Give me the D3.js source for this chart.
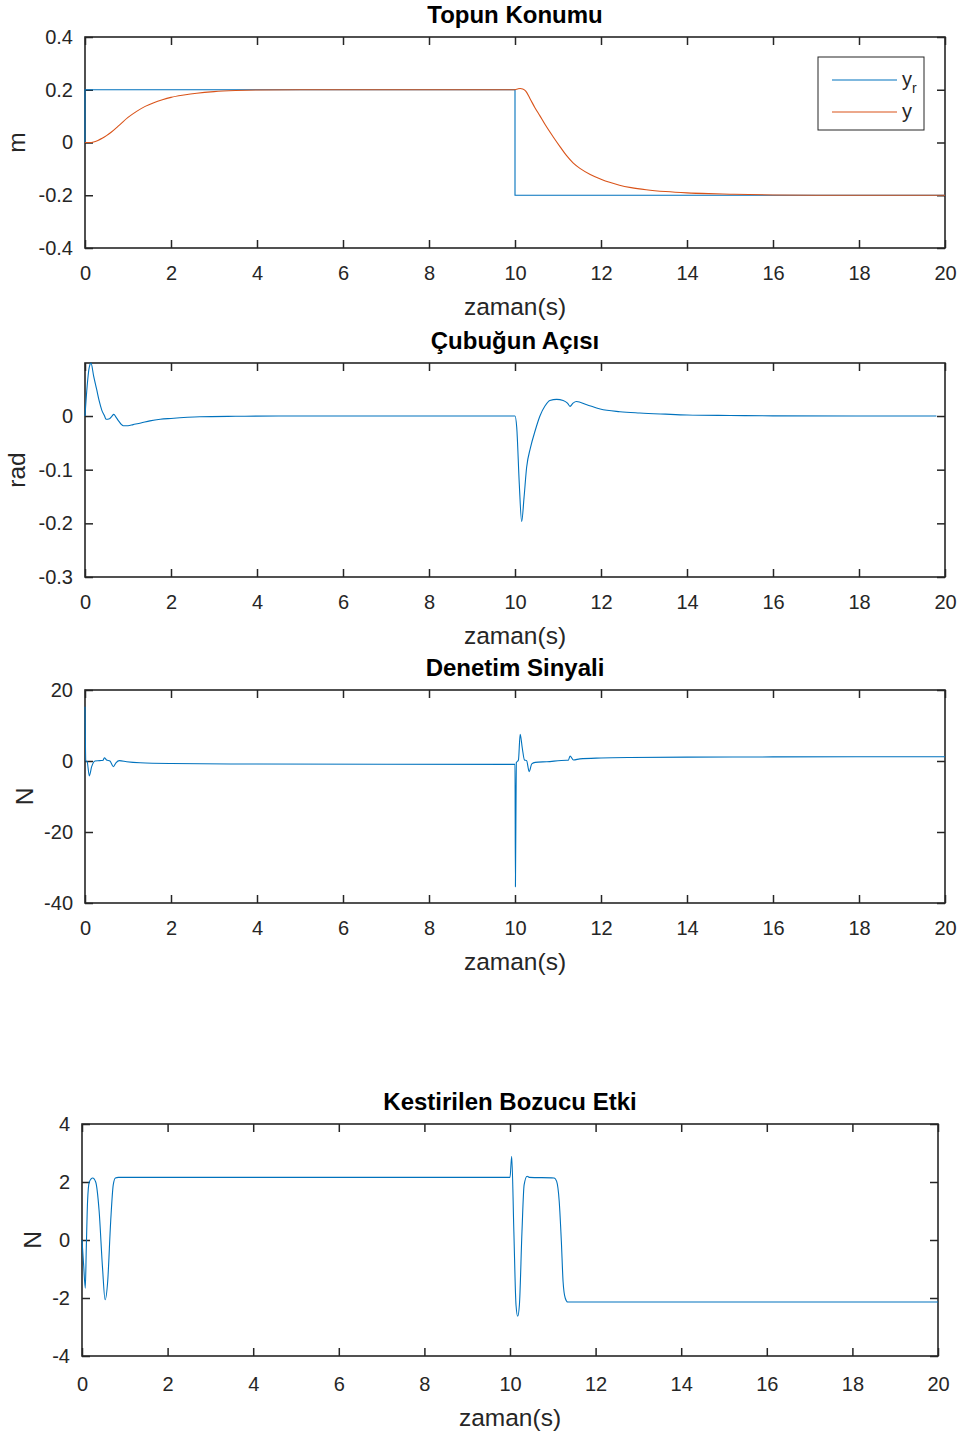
<!DOCTYPE html>
<html>
<head>
<meta charset="utf-8">
<script src="https://cdn.jsdelivr.net/npm/d3@7"></script>
<style>
  body { margin: 0; background: #fff; }
  text { font-family: "Liberation Sans", Arial, sans-serif; fill: #262626; }
  .tick-label { font-size: 20px; }
  .axis-label { font-size: 24.5px; }
  .title { font-size: 24px; font-weight: bold; fill: #000; }
</style>
</head>
<body>
<svg id="chart" width="961" height="1439"></svg>
<script>
// time axis ticks shared by all panels
const xTicks = [0, 2, 4, 6, 8, 10, 12, 14, 16, 18, 20]

// Topun Konumu: reference and ball position
const refT = [0, 0.0001, 10, 10.0001, 20]
const refV = [0, 0.2, 0.2, -0.2, -0.2]
const posT = [0, 0.1, 0.2, 0.3, 0.4, 0.5, 0.6, 0.8, 1.0, 1.2, 1.4, 1.6, 1.8, 2.0, 2.3, 2.6, 3.0, 3.5, 4.0, 5.0, 7.0, 10.0,
  10.06, 10.12, 10.18, 10.25, 10.35, 10.46, 10.58, 10.7, 10.89, 11.05, 11.2, 11.35, 11.51, 11.75, 12.0, 12.2, 12.43, 12.7,
  13.05, 13.5, 14.0, 14.5, 15.0, 16.0, 17.0, 20.0]
const posV = [0, 0, 0.002, 0.008, 0.016, 0.026, 0.038, 0.066, 0.095, 0.118, 0.137, 0.151, 0.162, 0.171, 0.180, 0.187, 0.193, 0.197, 0.199, 0.2, 0.2, 0.2,
  0.203, 0.205, 0.203, 0.195, 0.166, 0.133, 0.101, 0.068, 0.021, -0.0165, -0.050, -0.077, -0.098, -0.121, -0.139, -0.151, -0.162, -0.171,
  -0.179, -0.186, -0.191, -0.194, -0.196, -0.199, -0.2, -0.2]

// Çubuğun Açısı: beam angle
const angT = [0, 0.05, 0.1, 0.14, 0.2, 0.27, 0.33, 0.39, 0.45, 0.49, 0.57, 0.62, 0.67, 0.72, 0.78, 0.89, 1.0, 1.12, 1.3, 1.51, 1.75, 2.0, 2.67, 3.5, 4.5, 10.0,
  10.04, 10.1, 10.155, 10.21, 10.27, 10.36, 10.47, 10.58, 10.7, 10.81, 10.97, 11.12, 11.22, 11.28, 11.35, 11.43, 11.67, 11.98, 12.44, 12.9, 13.5, 14.0, 15.0, 16.0, 19.8]
const angV = [0, 0.056, 0.091, 0.0985, 0.075, 0.05, 0.028, 0.011, 0.001, -0.006, -0.005, -0.001, 0.003, -0.002, -0.009, -0.018, -0.018, -0.016, -0.013, -0.009, -0.006, -0.0045, -0.0015, -0.0005, 0, 0,
  -0.021, -0.127, -0.197, -0.152, -0.096, -0.059, -0.027, 0.0, 0.019, 0.029, 0.031, 0.029, 0.024, 0.018, 0.024, 0.027, 0.021, 0.013, 0.008, 0.0056, 0.0035, 0.002, 0.001, 0.0003, 0]

// Denetim Sinyali: control signal
const ctlT = [0, 0.02, 0.05, 0.1, 0.155, 0.23, 0.35, 0.42, 0.45, 0.5, 0.58, 0.66, 0.72, 0.8, 0.97, 1.28, 2.0, 4.0, 10.0,
  10.01, 10.03, 10.08, 10.12, 10.17, 10.22, 10.27, 10.33, 10.39, 10.47, 10.74, 11.2, 11.24, 11.28, 11.36, 11.51, 12.0, 12.67, 14.0, 16.0, 20.0]
const ctlV = [15.3, 0, -0.2, -4.2, -1.6, 0, 0.1, 0.2, 0.9, 0.3, 0, -1.6, -0.5, 0.1, -0.2, -0.5, -0.7, -0.85, -0.94,
  -35.4, -0.5, 0.3, 7.5, 3.6, 0.3, 0.1, -3.0, -0.8, -0.4, -0.2, 0.2, 0.2, 1.4, 0.3, 0.6, 0.85, 1.0, 1.1, 1.15, 1.2]

// Kestirilen Bozucu Etki: estimated disturbance
const disT = [0, 0.04, 0.077, 0.1, 0.13, 0.17, 0.25, 0.32, 0.4, 0.48, 0.54, 0.6, 0.67, 0.73, 0.78, 0.85, 2.0, 10.0,
  10.04, 10.09, 10.14, 10.18, 10.22, 10.28, 10.33, 10.4, 10.45, 11.03, 11.09, 11.15, 11.2, 11.24, 11.29, 11.35, 11.45, 20.0]
const disV = [0, -0.9, -1.66, -0.3, 1.33, 2.0, 2.14, 2.0, 1.0, -0.97, -2.06, -1.43, 0.64, 1.9, 2.14, 2.16, 2.16, 2.16,
  2.89, 0.3, -2.23, -2.63, -2.23, 0.3, 1.9, 2.2, 2.16, 2.14, 2.02, 1.33, -0.05, -1.43, -2.0, -2.14, -2.14, -2.14]

const BLUE = "#0072BD"
const ORANGE = "#D95319"
const AXIS = "#262626"
const TICK_LEN = 8

const zip = (ts, vs) => ts.map((t, i) => [t, vs[i]])

const panels = [
  { title: "Topun Konumu", ylabel: "m", x0: 85, x1: 945, y0: 37, y1: 248, ylabX: 17, below: 0,
    yDomain: [-0.4, 0.4], yTicks: [-0.4, -0.2, 0, 0.2, 0.4],
    series: [
      { data: zip(refT, refV), color: BLUE, curve: d3.curveLinear },
      { data: zip(posT, posV), color: ORANGE, curve: d3.curveMonotoneX }
    ], legend: true },
  { title: "Çubuğun Açısı", ylabel: "rad", x0: 85, x1: 945, y0: 363, y1: 577, ylabX: 17, below: 0,
    yDomain: [-0.3, 0.0988], yTicks: [-0.3, -0.2, -0.1, 0],
    series: [{ data: zip(angT, angV), color: BLUE, curve: d3.curveMonotoneX }] },
  { title: "Denetim Sinyali", ylabel: "N", x0: 85, x1: 945, y0: 690, y1: 903, ylabX: 25, below: 0,
    yDomain: [-40, 20], yTicks: [-40, -20, 0, 20],
    series: [{ data: zip(ctlT, ctlV), color: BLUE, curve: d3.curveMonotoneX }] },
  { title: "Kestirilen Bozucu Etki", ylabel: "N", x0: 82, x1: 938, y0: 1124, y1: 1356, ylabX: 33, below: 3,
    yDomain: [-4, 4], yTicks: [-4, -2, 0, 2, 4],
    series: [{ data: zip(disT, disV), color: BLUE, curve: d3.curveMonotoneX }] }
]

const svg = d3.select("#chart")
svg.append("rect").attr("width", 961).attr("height", 1439).attr("fill", "#fff")

panels.forEach((p, i) => {
  const x = d3.scaleLinear().domain([0, 20]).range([p.x0, p.x1])
  const y = d3.scaleLinear().domain(p.yDomain).range([p.y1, p.y0])
  const g = svg.append("g")

  // ticks on all four sides, pointing inward
  g.append("g").attr("transform", `translate(0,${p.y1})`)
    .call(d3.axisBottom(x).tickValues(xTicks).tickSize(-TICK_LEN).tickPadding(18 + p.below).tickFormat(d3.format("d")))
  g.append("g").attr("transform", `translate(${p.x0},0)`)
    .call(d3.axisLeft(y).tickValues(p.yTicks).tickSize(-TICK_LEN).tickPadding(12).tickFormat((d) => String(d)))
  g.append("g").attr("transform", `translate(0,${p.y0})`)
    .call(d3.axisTop(x).tickValues(xTicks).tickSize(-TICK_LEN).tickFormat(""))
  g.append("g").attr("transform", `translate(${p.x1},0)`)
    .call(d3.axisRight(y).tickValues(p.yTicks).tickSize(-TICK_LEN).tickFormat(""))

  g.selectAll(".domain").remove()
  g.selectAll("g").attr("font-family", null).attr("font-size", null)
  g.selectAll(".tick line").attr("stroke", AXIS).attr("stroke-width", 1.5)
  g.selectAll(".tick text").attr("class", "tick-label").attr("fill", AXIS)

  g.append("rect")
    .attr("x", p.x0).attr("y", p.y0)
    .attr("width", p.x1 - p.x0).attr("height", p.y1 - p.y0)
    .attr("fill", "none").attr("stroke", AXIS).attr("stroke-width", 1.6)

  // data lines drawn over the box, as in the original
  const clipId = "clip" + i
  svg.append("clipPath").attr("id", clipId)
    .append("rect").attr("x", p.x0 - 1).attr("y", p.y0 - 1)
    .attr("width", p.x1 - p.x0 + 2).attr("height", p.y1 - p.y0 + 2)

  p.series.forEach((s) => {
    g.append("path")
      .datum(s.data)
      .attr("clip-path", `url(#${clipId})`)
      .attr("fill", "none")
      .attr("stroke", s.color)
      .attr("stroke-width", 1.1)
      .attr("d", d3.line().x((d) => x(d[0])).y((d) => y(d[1])).curve(s.curve))
  })

  const cx = (p.x0 + p.x1) / 2
  g.append("text").attr("class", "title")
    .attr("x", cx).attr("y", p.y0 - 14).attr("text-anchor", "middle").text(p.title)
  g.append("text").attr("class", "axis-label")
    .attr("x", cx).attr("y", p.y1 + 67 + p.below).attr("text-anchor", "middle").text("zaman(s)")
  g.append("text").attr("class", "axis-label")
    .attr("transform", `translate(${p.ylabX + 8},${(p.y0 + p.y1) / 2}) rotate(-90)`)
    .attr("text-anchor", "middle").text(p.ylabel)

  if (p.legend) {
    const lg = g.append("g")
    lg.append("rect").attr("x", 818).attr("y", 57).attr("width", 106).attr("height", 73)
      .attr("fill", "#fff").attr("stroke", AXIS).attr("stroke-width", 1)
    const items = [{ color: BLUE, sub: "r", yy: 80 }, { color: ORANGE, sub: null, yy: 112 }]
    items.forEach((it) => {
      lg.append("line").attr("x1", 832).attr("x2", 897).attr("y1", it.yy).attr("y2", it.yy)
        .attr("stroke", it.color).attr("stroke-width", 1.1)
      const t = lg.append("text").attr("x", 902).attr("y", it.yy + 6).style("font-size", "20px").text("y")
      if (it.sub) t.append("tspan").attr("dy", 7).style("font-size", "14px").text(it.sub)
    })
  }
})
</script>
</body>
</html>
